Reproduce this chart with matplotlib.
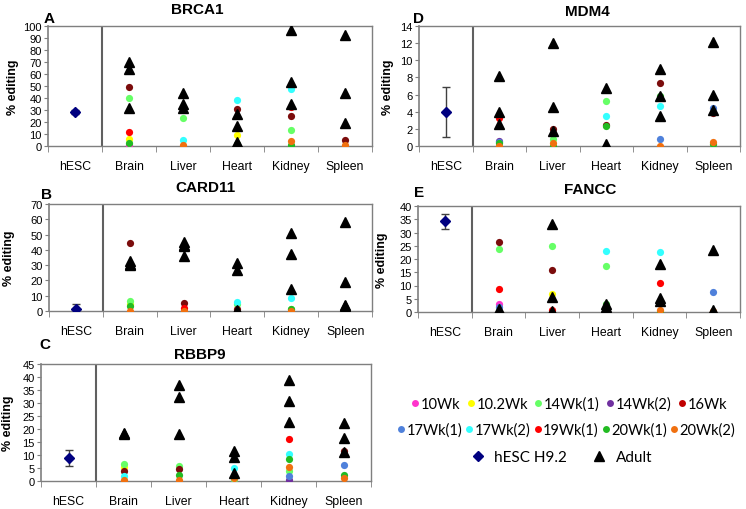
import numpy as np
import matplotlib
matplotlib.use("Agg")
import matplotlib.pyplot as plt
from matplotlib.lines import Line2D

nan = np.nan
categories = ["hESC", "Brain", "Liver", "Heart", "Kidney", "Spleen"]
series_names = ["10Wk", "10.2Wk", "14Wk(1)", "14Wk(2)", "16Wk",
                "17Wk(1)", "17Wk(2)", "19Wk(1)", "20Wk(1)", "20Wk(2)"]
series_colors = ["#ff33cc", "#ffff00", "#66ff66", "#7030a0", "#7b0c0c",
                 "#4f81db", "#33ffff", "#ff0000", "#22bb22", "#f07010"]
legend_colors = ["#ff33cc", "#ffff00", "#66ff66", "#7030a0", "#c00000",
                 "#4f81db", "#33ffff", "#ff0000", "#22bb22", "#f07010"]

# fetal values per series, tissues: Brain, Liver, Heart, Kidney, Spleen
brca1_fetal = [
    [0.5, nan, nan, nan, nan],
    [5.6, nan, 9.2, nan, nan],
    [40.2, 23.5, nan, 13.7, nan],
    [nan, nan, nan, nan, nan],
    [49.2, nan, 31.0, 24.9, 4.8],
    [nan, nan, nan, nan, nan],
    [nan, 5.0, 38.5, 47.5, nan],
    [12.0, nan, nan, 32.7, nan],
    [2.5, nan, 2.0, 1.0, nan],
    [nan, 0.5, 0.5, 4.2, 0.5],
]
brca1_adult = [[69.8, 64.2, 32.0], [44.0, 35.0, 32.0], [26.5, 16.8, 3.5],
               [96.3, 53.6, 35.0], [92.7, 44.4, 19.3]]
brca1_hesc = [28.5, 1.5]

mdm4_fetal = [
    [nan, nan, nan, nan, nan],
    [nan, nan, nan, nan, nan],
    [nan, 0.8, 5.3, nan, nan],
    [0.6, nan, nan, nan, nan],
    [nan, 1.95, 2.45, 7.3, 3.9],
    [0.5, nan, nan, 0.8, 4.4],
    [nan, nan, 3.45, 4.7, nan],
    [3.3, nan, nan, nan, nan],
    [0.3, 0.05, 2.3, 5.8, 0.2],
    [0.05, 0.3, nan, 0.05, 0.5],
]
mdm4_adult = [[8.2, 4.0, 2.6], [12.0, 4.6, 1.7], [6.75, 0.2, 0.05],
              [9.0, 5.8, 3.5], [12.1, 6.0, 4.2]]
mdm4_hesc = [4.0, 2.9]

card11_fetal = [
    [nan, nan, nan, nan, nan],
    [4.8, nan, nan, nan, nan],
    [6.3, nan, 4.5, 1.5, nan],
    [nan, nan, nan, nan, nan],
    [44.3, 5.2, 1.0, nan, nan],
    [nan, nan, nan, nan, nan],
    [nan, nan, 5.7, 8.2, nan],
    [nan, 2.0, nan, nan, nan],
    [3.0, nan, nan, 1.0, nan],
    [0.3, 0.3, nan, 0.3, 0.3],
]
card11_adult = [[33.0, 31.0, 30.0], [45.4, 43.4, 42.2, 35.9], [31.5, 26.7, 0.5],
                [50.9, 37.2, 14.3], [58.2, 18.9, 4.1, 3.0]]
card11_hesc = [1.5, 2.8]

fancc_fetal = [
    [3.1, nan, nan, nan, nan],
    [nan, 6.7, nan, nan, nan],
    [23.9, 24.8, 17.2, nan, nan],
    [nan, nan, nan, nan, nan],
    [26.5, 15.7, nan, nan, nan],
    [2.0, nan, nan, nan, 7.5],
    [nan, nan, 23.1, 22.6, nan],
    [8.8, 0.6, nan, 11.0, nan],
    [nan, nan, 3.2, 0.1, nan],
    [nan, nan, 0.3, 0.7, 0.2],
]
fancc_adult = [[1.0, 0.5, 0.1], [33.1, 5.8, 0.2], [3.0, 2.0, 1.0],
               [18.0, 5.3, 4.0], [23.3, 0.6]]
fancc_hesc = [34.3, 2.8]

rbbp9_fetal = [
    [nan, nan, nan, nan, nan],
    [5.4, nan, 1.3, nan, nan],
    [6.7, 5.8, 0.8, 3.8, nan],
    [nan, nan, nan, 0.5, nan],
    [3.9, 4.5, nan, nan, 11.5],
    [nan, nan, nan, 1.8, 6.0],
    [1.8, nan, 4.9, 10.3, nan],
    [nan, nan, nan, 16.0, nan],
    [nan, 2.3, nan, 8.6, 2.2],
    [0.3, 0.5, 1.3, 5.4, 1.2],
]
rbbp9_adult = [[18.4, 18.2], [36.9, 32.5, 18.1], [11.6, 9.4, 3.1],
               [39.0, 30.9, 22.6], [22.3, 16.7, 11.3]]
rbbp9_hesc = [8.8, 3.0]

plt.rcParams["font.family"] = ["Liberation Sans", "DejaVu Sans"]
W, H = 746, 510
fig = plt.figure(figsize=(W / 100, H / 100), dpi=100)

# layout in pixels: axes (left, right, top, bottom), title xy, letter xy, ylabel x
panels = [
    ("BRCA1", "A", brca1_fetal, brca1_adult, brca1_hesc, 100, 10,
     (48, 372, 27, 147), (197, 10), (49, 19), 19),
    ("MDM4", "D", mdm4_fetal, mdm4_adult, mdm4_hesc, 14, 2,
     (419, 740, 27, 147), (587, 12), (418, 19), 394),
    ("CARD11", "B", card11_fetal, card11_adult, card11_hesc, 70, 10,
     (49, 372, 205, 312), (205, 188), (47, 195), 15),
    ("FANCC", "E", fancc_fetal, fancc_adult, fancc_hesc, 40, 5,
     (418, 740, 207, 313), (590, 190), (419, 193), 388),
    ("RBBP9", "C", rbbp9_fetal, rbbp9_adult, rbbp9_hesc, 45, 5,
     (41, 371, 365, 482), (200, 355), (45, 345), 14),
]

gray = "#7f7f7f"
for (title, letter, fetal, adult, hesc, ymax, ystep, (l, r, t, b),
     (tx, ty), (lx, ly), ylx) in panels:
    ax = fig.add_axes([l / W, 1 - b / H, (r - l) / W, (b - t) / H])
    x_t = np.arange(1, 6)
    for vals, col in zip(fetal, series_colors):
        ax.plot(x_t, vals, "o", color=col, ms=5.2, mec="none", zorder=3)
    for i, vals in enumerate(adult):
        ax.plot([i + 1] * len(vals), vals, "^", color="black", ms=6.5,
                mec="black", zorder=4)
    ax.errorbar([0], [hesc[0]], yerr=[hesc[1]], fmt="D", color="#000080",
                ms=5.5, ecolor="#404040", elinewidth=1, capsize=3, zorder=4)
    ax.set_xlim(-0.5, 5.5)
    ax.set_ylim(0, ymax)
    ax.set_yticks(np.arange(0, ymax + 0.1, ystep))
    ax.set_xticks(np.arange(6))
    ax.set_xticklabels(categories)
    ax.set_xticks(np.arange(-0.5, 6, 1), minor=True)
    ax.tick_params(axis="x", which="major", length=0, pad=10, labelsize=8.8)
    ax.tick_params(axis="x", which="minor", length=4, color=gray, direction="out")
    ax.tick_params(axis="y", length=3, color=gray, labelsize=8, pad=1.5)
    for s in ax.spines.values():
        s.set_color(gray)
        s.set_linewidth(1)
    ax.spines["left"].set_linewidth(1.2)
    ax.axvline(0.5, color="#606060", lw=1.5, zorder=2)
    fig.text(tx / W, 1 - ty / H, title, fontsize=11, fontweight="bold",
             ha="center", va="center")
    fig.text(lx / W, 1 - ly / H, letter, fontsize=11, fontweight="bold",
             ha="center", va="center")
    ax.set_ylabel("% editing", fontsize=9, fontweight="bold")
    ax.yaxis.set_label_coords((ylx - l) / (r - l), 0.5)

prop = {"family": "Lato", "size": 10.5}
row1 = [Line2D([], [], marker="o", ls="none", color=c, mec="none", ms=5)
        for c in legend_colors[:5]]
row2 = [Line2D([], [], marker="o", ls="none", color=c, mec="none", ms=5)
        for c in legend_colors[5:]]
leg1 = fig.legend(row1, series_names[:5], ncol=5, loc="center left",
                  bbox_to_anchor=(412 / W, 1 - 405 / H), frameon=False,
                  prop=prop, handlelength=0.45, handletextpad=0.15,
                  columnspacing=0.5, borderpad=0, borderaxespad=0)
leg2 = fig.legend(row2, series_names[5:], ncol=5, loc="center left",
                  bbox_to_anchor=(398 / W, 1 - 431 / H), frameon=False,
                  prop=prop, handlelength=0.45, handletextpad=0.15,
                  columnspacing=0.25, borderpad=0, borderaxespad=0)
h3 = [Line2D([], [], marker="D", ls="none", color="#000080", ms=5.5),
      Line2D([], [], marker="^", ls="none", color="black", ms=6.5)]
leg3 = fig.legend(h3, ["hESC H9.2", "Adult"], ncol=2, loc="center left",
                  bbox_to_anchor=(470 / W, 1 - 458 / H), frameon=False,
                  prop={"family": "Lato", "size": 11}, handlelength=1.0,
                  handletextpad=0.6, columnspacing=1.6, borderpad=0,
                  borderaxespad=0)

fig.savefig("out.png", dpi=100)
